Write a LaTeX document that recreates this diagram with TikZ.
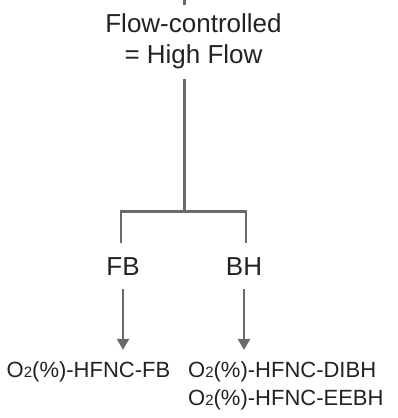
\documentclass[tikz,border=0pt]{standalone}
\usepackage{fontspec}
\setmainfont{Liberation Sans}
\usetikzlibrary{arrows.meta}

\definecolor{line_grey}{HTML}{6A6A6A}
\definecolor{text_grey}{HTML}{222222}

\newcommand{\otwo}{O{\fontsize{15}{15}\selectfont\raisebox{-0.5pt}{2}}}

\begin{document}
\begin{tikzpicture}[x=1pt,y=-1pt,
  big_txt/.style={inner sep=0pt,text=text_grey,font=\fontsize{26}{31}\selectfont},
  small_txt/.style={inner sep=0pt,text=text_grey,font=\fontsize{22}{28}\selectfont},
  tree_line/.style={draw=line_grey,line width=2.2pt},
  tree_arrow/.style={tree_line,-{Triangle[width=12pt,length=11pt]},shorten <=14pt,shorten >=11pt}]

\useasboundingbox (0,0) rectangle (397,418) ;

\coordinate (pt_top) at (184.5,-3) ;
\coordinate (pt_top_end) at (184.5,5) ;
\coordinate (pt_trunk) at (184.5,79) ;
\coordinate (pt_split) at (184.5,211.5) ;
\coordinate (pt_fb_in) at (121,243) ;
\coordinate (pt_bh_in) at (246,243) ;

\node[big_txt,align=center,anchor=north] (n_flow) at (193.5,13) {Flow-controlled\\= High Flow} ;

\node[big_txt,anchor=base] (n_fb) at (123,275) {FB} ;
\node[big_txt,anchor=base] (n_bh) at (244,275) {BH} ;

\node[small_txt,anchor=base] (n_fb_out) at (88.5,377) {\otwo(\%)-HFNC-FB} ;
\node[small_txt,align=left,anchor=north west] (n_bh_out) at (188,361) {\otwo(\%)-HFNC-DIBH\\\otwo(\%)-HFNC-EEBH} ;

\draw[tree_line] (pt_top) -- (pt_top_end) ;

\draw[tree_line] (pt_trunk) -- (pt_split) ;

\draw[tree_line] (pt_fb_in) |- (pt_split) -| (pt_bh_in) ;

\draw[tree_arrow] (n_fb.south) -- (n_fb.south |- n_fb_out.north) ;
\draw[tree_arrow] (n_bh.south) -- (n_bh.south |- n_bh_out.north) ;

\end{tikzpicture}
\end{document}
